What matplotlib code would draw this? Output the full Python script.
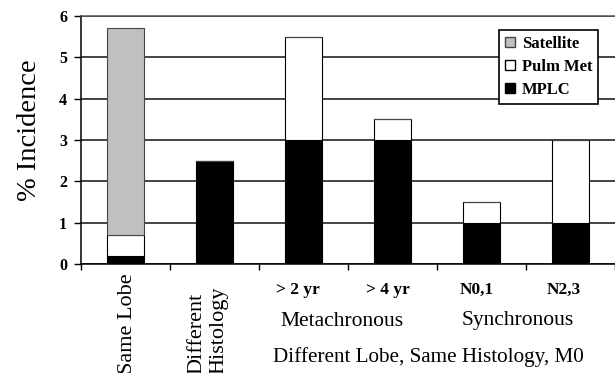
import matplotlib
matplotlib.use('Agg')
import matplotlib.pyplot as plt
import matplotlib.transforms as mtransforms
from matplotlib.patches import Patch

# data
categories = ['Same Lobe', 'Different\nHistology', '> 2 yr', '> 4 yr', 'N0,1', 'N2,3']
mplc = [0.2, 2.5, 3.0, 3.0, 1.0, 1.0]
pulm_met = [0.5, 0.0, 2.5, 0.5, 0.5, 2.0]
satellite = [5.0, 0.0, 0.0, 0.0, 0.0, 0.0]

plt.rcParams['font.family'] = ['Liberation Serif', 'DejaVu Serif']

W, H = 615, 373
fig = plt.figure(figsize=(W / 100, H / 100), dpi=100)
ax = fig.add_axes([81 / W, (H - 264) / H, 534 / W, 248 / H])

x = list(range(len(categories)))
bw = 0.42
ax.bar(x, mplc, bw, color='black', edgecolor='black', lw=0.8, zorder=3)
bot2 = mplc
ax.bar(x, pulm_met, bw, bottom=bot2, color='white', edgecolor='black', lw=0.8, zorder=3)
bot3 = [a + b for a, b in zip(mplc, pulm_met)]
ax.bar(x, satellite, bw, bottom=bot3, color='#c0c0c0', edgecolor='#444444', lw=0.8, zorder=3)

ax.set_xlim(-0.5, 5.5)
ax.set_ylim(0, 6)
ax.set_yticks(range(7))
ax.set_yticklabels([str(i) for i in range(7)], fontweight='bold', fontsize=11.5)
ax.set_xticks([i - 0.5 for i in range(7)])
ax.set_xticklabels([])
ax.tick_params(axis='x', direction='out', length=4, width=1)
ax.tick_params(axis='y', direction='out', length=5, width=1, pad=5)
ax.grid(axis='y', color='#222222', lw=1.2, zorder=0)
ax.spines['right'].set_visible(False)
for s in ['left', 'bottom', 'top']:
    ax.spines[s].set_linewidth(1.1)
ax.spines['top'].set_color('#555555')

fig.text(29 / W, 1 - 130 / H, '% Incidence', fontsize=20.5, rotation=90,
         ha='center', va='center')

# category labels below the axis
tr = mtransforms.blended_transform_factory(ax.transData, fig.transFigure)
ax.text(0.02, -0.003, categories[0], rotation=90, fontsize=16, ha='center', va='bottom',
        transform=tr)
ax.text(0.93, -0.003, categories[1], rotation=90, fontsize=16, ha='center', va='bottom',
        multialignment='left', linespacing=1.2, transform=tr)

small_x = [1.94, 2.95, 3.95, 4.92]
for xi, lab in zip(small_x, categories[2:]):
    ax.text(xi, 1 - 290 / H, lab, fontsize=12.5, fontweight='bold', ha='center', va='center',
            transform=tr)

ax.text(2.43, 1 - 321 / H, 'Metachronous', fontsize=15.5, ha='center', va='center', transform=tr)
ax.text(4.41, 1 - 321 / H, 'Synchronous', fontsize=15.5, ha='center', va='center', transform=tr)
ax.text(3.4, 1 - 357 / H, 'Different Lobe, Same Histology, M0', fontsize=15.2, ha='center',
        va='center', transform=tr)

handles = [Patch(facecolor='#c0c0c0', edgecolor='#444444', label='Satellite'),
           Patch(facecolor='white', edgecolor='black', label='Pulm Met'),
           Patch(facecolor='black', edgecolor='black', label='MPLC')]
leg = ax.legend(handles=handles, loc='upper right', bbox_to_anchor=(0.968, 0.944),
                prop={'weight': 'bold', 'size': 12}, fancybox=False, framealpha=1,
                edgecolor='black', handlelength=0.6, handleheight=0.6, handletextpad=0.4,
                borderpad=0.35, labelspacing=0.42, borderaxespad=0)
leg.get_frame().set_linewidth(1.2)
leg.set_zorder(5)

fig.savefig('out.png', dpi=100)
